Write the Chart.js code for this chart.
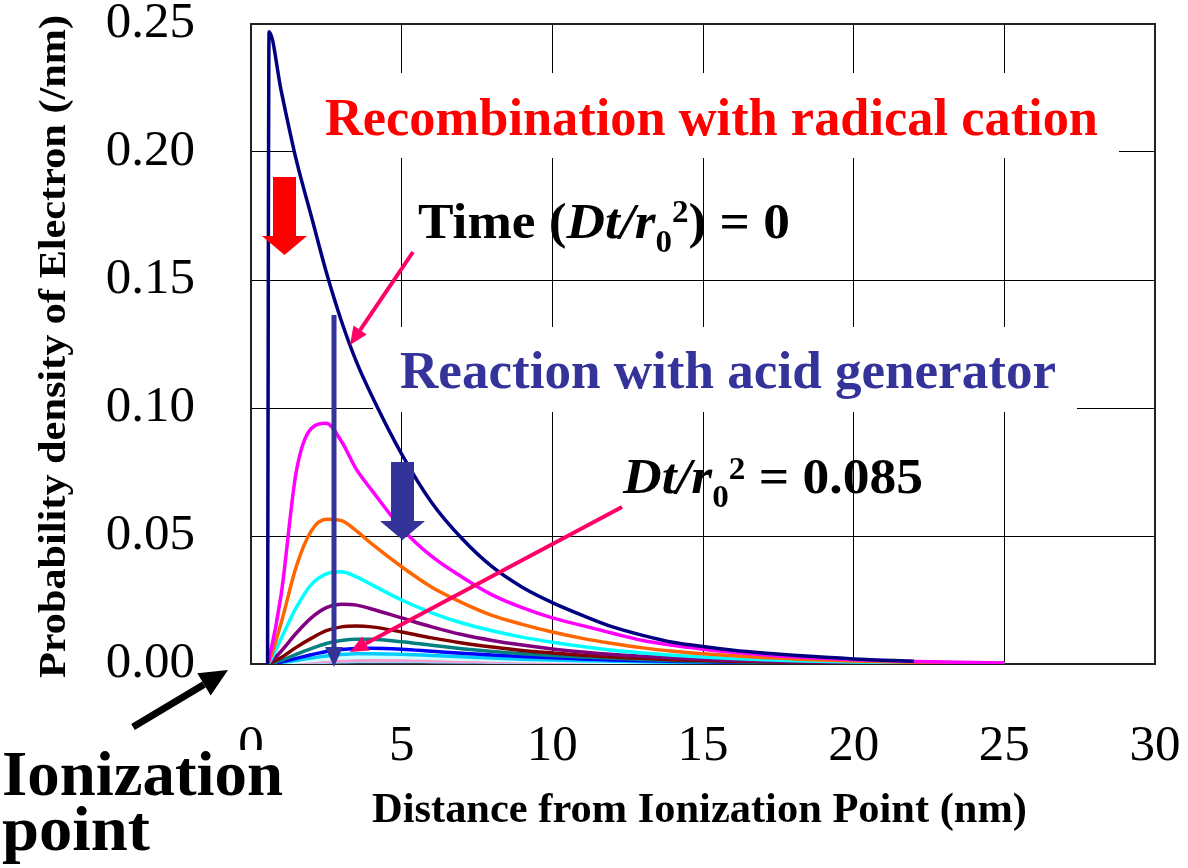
<!DOCTYPE html>
<html>
<head>
<meta charset="utf-8">
<script src="https://cdn.jsdelivr.net/npm/chart.js@4.4.1/dist/chart.umd.min.js"></script>
<style>
  html, body { margin: 0; padding: 0; background: #fff; }
  #wrap { width: 1188px; height: 868px; }
</style>
</head>
<body>
<div id="wrap"><canvas id="myChart" width="1188" height="868"></canvas></div>
<script>
// distance from ionization point (nm)
var distances = [0.55, 0.6, 1, 1.5, 2, 2.5, 3, 3.5, 4, 5, 6, 7, 8, 9, 10, 11, 12, 13, 14, 15, 16, 17, 18, 20, 22, 25];

// probability density (/nm), one array per time step, Dt/r0^2 = 0 first
var t0  = [0, 0.247, 0.224, 0.197, 0.175, 0.153, 0.134, 0.118, 0.105, 0.082, 0.063, 0.049, 0.038, 0.030, 0.024, 0.019, 0.0145, 0.0112, 0.0085, 0.0068, 0.0054, 0.0043, 0.0034, 0.002, 0.0011, null];
var t1  = [0, 0.002, 0.027, 0.075, 0.092, 0.094, 0.087, 0.076, 0.068, 0.053, 0.042, 0.034, 0.027, 0.022, 0.018, 0.015, 0.012, 0.0092, 0.0073, 0.0058, 0.0046, 0.0036, 0.0028, 0.0017, 0.001, 0.0004];
var t2  = [0, 0.001, 0.016, 0.038, 0.052, 0.0565, 0.056, 0.052, 0.047, 0.038, 0.030, 0.024, 0.019, 0.0155, 0.0125, 0.010, 0.008, 0.0063, 0.005, 0.004, 0.0032, 0.0025, 0.002, 0.0012, 0.0007, 0.0003];
var t3  = [0, 0.0005, 0.010, 0.022, 0.031, 0.0352, 0.036, 0.034, 0.031, 0.025, 0.020, 0.016, 0.013, 0.0105, 0.0085, 0.0068, 0.0054, 0.0043, 0.0034, 0.0027, 0.0021, 0.0017, 0.0013, 0.0008, 0.0005, 0.0002];
var t4  = [0, 0.0003, 0.005, 0.012, 0.018, 0.022, 0.0233, 0.023, 0.0215, 0.018, 0.0145, 0.0115, 0.0092, 0.0074, 0.0059, 0.0047, 0.0037, 0.003, 0.0024, 0.0019, 0.0015, 0.0012, 0.0009, 0.0006, 0.0003, 0.0001];
var t5  = [0, 0.0002, 0.0025, 0.0065, 0.010, 0.013, 0.0145, 0.0148, 0.0145, 0.0125, 0.0102, 0.0082, 0.0066, 0.0053, 0.0043, 0.0034, 0.0027, 0.0022, 0.0017, 0.0014, 0.0011, 0.0009, 0.0007, 0.0004, 0.0002, 0.0001];
var t6  = [0, 0.0001, 0.0014, 0.0038, 0.006, 0.008, 0.0092, 0.0097, 0.0097, 0.0087, 0.0073, 0.006, 0.0049, 0.004, 0.0033, 0.0027, 0.0022, 0.0018, 0.0014, 0.0011, 0.0009, 0.0007, 0.0006, 0.0004, 0.0002, 0.0001];
var t7  = [0, 0, 0.0008, 0.0022, 0.0036, 0.0049, 0.0057, 0.0061, 0.0062, 0.0058, 0.005, 0.0042, 0.0035, 0.0029, 0.0024, 0.002, 0.0016, 0.0013, 0.0011, 0.0009, 0.0007, 0.0006, 0.0005, 0.0003, 0.0002, 0.0001];
var t8  = [0, 0, 0.0005, 0.0014, 0.0023, 0.0031, 0.0037, 0.004, 0.004, 0.0038, 0.0033, 0.0028, 0.0023, 0.0019, 0.0016, 0.0013, 0.0011, 0.0009, 0.0007, 0.0006, 0.0005, 0.0004, 0.0003, 0.0002, 0.0001, 0.0001];
var t9  = [0, 0, 0.0003, 0.0008, 0.0014, 0.0019, 0.0023, 0.0025, 0.0026, 0.0025, 0.0022, 0.0019, 0.0016, 0.0013, 0.0011, 0.0009, 0.0007, 0.0006, 0.0005, 0.0004, 0.0003, 0.0003, 0.0002, 0.0001, 0.0001, 0];
var t10 = [0, 0, 0.0002, 0.0005, 0.0009, 0.0012, 0.0014, 0.0016, 0.0016, 0.0016, 0.0014, 0.0012, 0.001, 0.0009, 0.0007, 0.0006, 0.0005, 0.0004, 0.0003, 0.0003, 0.0002, 0.0002, 0.0001, 0.0001, 0, 0];
var t11 = [0, 0, 0.0001, 0.0003, 0.0005, 0.0007, 0.0009, 0.001, 0.001, 0.001, 0.0009, 0.0008, 0.0007, 0.0006, 0.0005, 0.0004, 0.0003, 0.0003, 0.0002, 0.0002, 0.0001, 0.0001, 0.0001, 0, 0, 0];

var seriesColors = ["#000080", "#FF00FF", "#FF6600", "#00FFFF", "#800080", "#800000",
                    "#008080", "#0000FF", "#00CCFF", "#CCFFFF", "#FF99CC", "#99CCFF"];

var allSeries = [t0, t1, t2, t3, t4, t5, t6, t7, t8, t9, t10, t11];

var datasets = allSeries.map(function (vals, i) {
  return {
    data: vals.map(function (v, j) { return { x: distances[j], y: v }; }),
    borderColor: seriesColors[i],
    borderWidth: 3.5,
    pointRadius: 0,
    fill: false,
    cubicInterpolationMode: 'monotone'
  };
});

var serif = "'Liberation Serif', 'Times New Roman', serif";

// text drawn with a horizontal stretch so it spans a given width
function richText(ctx, parts, x, y, width, color) {
  var total = 0;
  parts.forEach(function (p) {
    ctx.font = p.font;
    p.w = ctx.measureText(p.text).width;
    total += p.w;
  });
  var s = width / total;
  ctx.save();
  ctx.translate(x, y);
  ctx.scale(s, 1);
  ctx.fillStyle = color;
  ctx.textAlign = 'left';
  ctx.textBaseline = 'alphabetic';
  var cx = 0;
  parts.forEach(function (p) {
    ctx.font = p.font;
    ctx.fillText(p.text, cx, p.dy || 0);
    cx += p.w;
  });
  ctx.restore();
}

function blockArrow(ctx, cx, top, shaftW, headW, headY, tipY, color) {
  ctx.beginPath();
  ctx.moveTo(cx - shaftW / 2, top);
  ctx.lineTo(cx + shaftW / 2, top);
  ctx.lineTo(cx + shaftW / 2, headY);
  ctx.lineTo(cx + headW / 2, headY);
  ctx.lineTo(cx, tipY);
  ctx.lineTo(cx - headW / 2, headY);
  ctx.lineTo(cx - shaftW / 2, headY);
  ctx.closePath();
  ctx.fillStyle = color;
  ctx.fill();
}

function lineArrow(ctx, x1, y1, x2, y2, lw, headL, headW, color) {
  var a = Math.atan2(y2 - y1, x2 - x1);
  var bx = x2 - headL * Math.cos(a), by = y2 - headL * Math.sin(a);
  ctx.strokeStyle = color;
  ctx.lineWidth = lw;
  ctx.lineCap = 'butt';
  ctx.beginPath();
  ctx.moveTo(x1, y1);
  ctx.lineTo(bx, by);
  ctx.stroke();
  ctx.beginPath();
  ctx.moveTo(x2, y2);
  ctx.lineTo(bx + headW / 2 * Math.sin(a), by - headW / 2 * Math.cos(a));
  ctx.lineTo(bx - headW / 2 * Math.sin(a), by + headW / 2 * Math.cos(a));
  ctx.closePath();
  ctx.fillStyle = color;
  ctx.fill();
}

var annotations = {
  id: 'annotations',
  beforeDatasetsDraw: function (chart) {
    var ctx = chart.ctx, ca = chart.chartArea;
    ctx.save();
    // white boxes behind the two coloured labels hide the grid
    ctx.fillStyle = '#fff';
    ctx.fillRect(293, 73, 1119 - 293, 158 - 73);
    ctx.fillRect(373, 327, 1077 - 373, 412 - 327);
    ctx.strokeStyle = '#222';
    ctx.lineWidth = 2;
    ctx.strokeRect(ca.left, ca.top, ca.right - ca.left, ca.bottom - ca.top);
    ctx.restore();
  },
  afterDatasetsDraw: function (chart) {
    var ctx = chart.ctx;
    ctx.save();
    richText(ctx, [{ text: 'Recombination with radical cation', font: 'bold 52px ' + serif }], 325, 135, 773, '#FF0000');
    richText(ctx, [{ text: 'Reaction with acid generator', font: 'bold 52px ' + serif }], 400, 388, 656, '#333399');
    richText(ctx, [
      { text: 'Time (', font: 'bold 50px ' + serif },
      { text: 'Dt/r', font: 'italic bold 50px ' + serif },
      { text: '0', font: 'bold 31px ' + serif, dy: 14 },
      { text: '2', font: 'bold 31px ' + serif, dy: -16 },
      { text: ') = 0', font: 'bold 50px ' + serif }
    ], 418, 238, 372, '#000');
    richText(ctx, [
      { text: 'Dt/r', font: 'italic bold 50px ' + serif },
      { text: '0', font: 'bold 31px ' + serif, dy: 14 },
      { text: '2', font: 'bold 31px ' + serif, dy: -14 },
      { text: ' = 0.085', font: 'bold 50px ' + serif }
    ], 623, 493, 300, '#000');

    blockArrow(ctx, 284.5, 177, 23, 45, 236, 255, '#FF0000');
    blockArrow(ctx, 402.5, 462, 23, 45, 521, 540, '#333399');
    lineArrow(ctx, 334, 315, 334, 667, 5, 20, 18, '#333399');
    lineArrow(ctx, 413, 252, 350, 345, 4, 18, 16, '#FF0066');
    lineArrow(ctx, 622, 507, 350, 652, 4, 18, 16, '#FF0066');
    ctx.restore();
  },
  afterDraw: function (chart) {
    var ctx = chart.ctx;
    ctx.save();
    // axis titles
    ctx.save();
    ctx.translate(65, 678);
    ctx.rotate(-Math.PI / 2);
    richText(ctx, [{ text: 'Probability density of Electron (/nm)', font: 'bold 38px ' + serif }], 0, 0, 663, '#000');
    ctx.restore();
    richText(ctx, [{ text: 'Distance from Ionization Point (nm)', font: 'bold 42px ' + serif }], 372, 822, 655, '#000');

    // ionization point label
    ctx.fillStyle = '#fff';
    ctx.fillRect(0, 750, 286, 50);
    richText(ctx, [{ text: 'Ionization', font: 'bold 64px ' + serif }], 2, 795, 281, '#000');
    richText(ctx, [{ text: 'point', font: 'bold 64px ' + serif }], 2, 850, 148, '#000');
    lineArrow(ctx, 133, 727, 228, 670, 7, 28, 26, '#000');
    ctx.restore();
  }
};

var tickFont = { family: serif, size: 51 };

var ctx = document.getElementById("myChart");
var myChart = new Chart(ctx, {
  type: 'line',
  data: { datasets: datasets },
  options: {
    responsive: false,
    animation: false,
    devicePixelRatio: 1,
    layout: { padding: { left: 0, right: 33, top: 24, bottom: 0 } },
    plugins: {
      legend: { display: false },
      tooltip: { enabled: false }
    },
    scales: {
      x: {
        type: 'linear',
        min: 0,
        max: 30,
        ticks: { stepSize: 5, color: '#000', font: tickFont, padding: 52, maxRotation: 0 },
        grid: { color: '#000', lineWidth: 1, drawTicks: false },
        border: { color: '#222', width: 2 },
        afterFit: function (scale) {
          scale.height = 204;
          scale.paddingLeft = 0;
          scale.paddingRight = 0;
        }
      },
      y: {
        min: 0,
        max: 0.25,
        ticks: {
          stepSize: 0.05,
          color: '#000',
          font: tickFont,
          padding: 56,
          callback: function (v) { return v.toFixed(2); }
        },
        grid: { color: '#000', lineWidth: 1, drawTicks: false },
        border: { color: '#222', width: 2 },
        afterFit: function (scale) {
          scale.width = 251;
          scale.paddingTop = 0;
          scale.paddingBottom = 0;
        }
      }
    }
  },
  plugins: [annotations]
});
</script>
</body>
</html>
